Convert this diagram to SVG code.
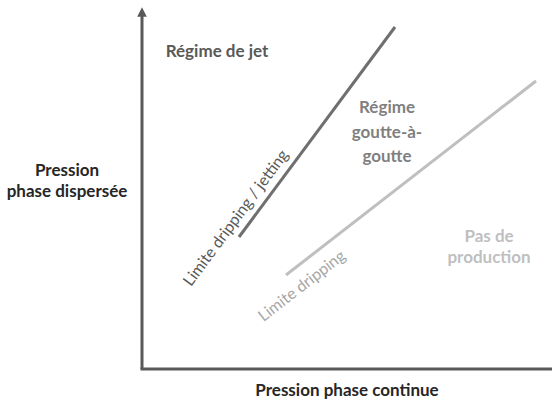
<svg xmlns="http://www.w3.org/2000/svg" width="552" height="403" viewBox="0 0 552 403">
<style>
text{font-family:Lato,"Open Sans","Liberation Sans",sans-serif;}
.b{font-weight:bold;font-size:17px;text-anchor:middle;}
.r{font-size:16px;text-anchor:middle;}
.ax{stroke:#595959;stroke-width:3;fill:none;}
</style>
<defs>
<marker id="ah" viewBox="0 0 10 10" refX="5" refY="5" markerWidth="3.2" markerHeight="3.2" orient="auto">
<path d="M0,0 L10,5 L0,10 z" fill="#595959"/>
</marker>
</defs>
<rect width="552" height="403" fill="#ffffff"/>
<g id="connectors">
<path class="ax" d="M142,369 L142,12" marker-end="url(#ah)"/>
<path class="ax" d="M140.5,369 L552,369"/>
<line x1="239" y1="237" x2="395" y2="27" stroke="#6f6f6f" stroke-width="3"/>
<line x1="286" y1="275" x2="536" y2="81" stroke="#bfbfbf" stroke-width="3"/>
</g>
<g id="regime-jet"><text class="b" x="217" y="57" fill="#595959">Régime de jet</text></g>
<g id="regime-goutte"><text class="b" fill="#7f7f7f"><tspan x="387" y="113">Régime</tspan><tspan x="387" y="138">goutte-à-</tspan><tspan x="387" y="162">goutte</tspan></text></g>
<g id="pas-production"><text class="b" fill="#bfbfbf"><tspan x="489" y="242">Pas de</tspan><tspan x="489" y="263">production</tspan></text></g>
<g id="y-label"><text class="b" fill="#262626"><tspan x="67" y="176">Pression</tspan><tspan x="67" y="197">phase dispersée</tspan></text></g>
<g id="x-label"><text class="b" x="347" y="396" fill="#262626">Pression phase continue</text></g>
<g id="limite-jetting"><text class="r" fill="#595959" transform="translate(240,221) rotate(-53.5)">Limite dripping / jetting</text></g>
<g id="limite-dripping"><text class="r" fill="#a6a6a6" transform="translate(305,290) rotate(-37.8)">Limite dripping</text></g>
</svg>
